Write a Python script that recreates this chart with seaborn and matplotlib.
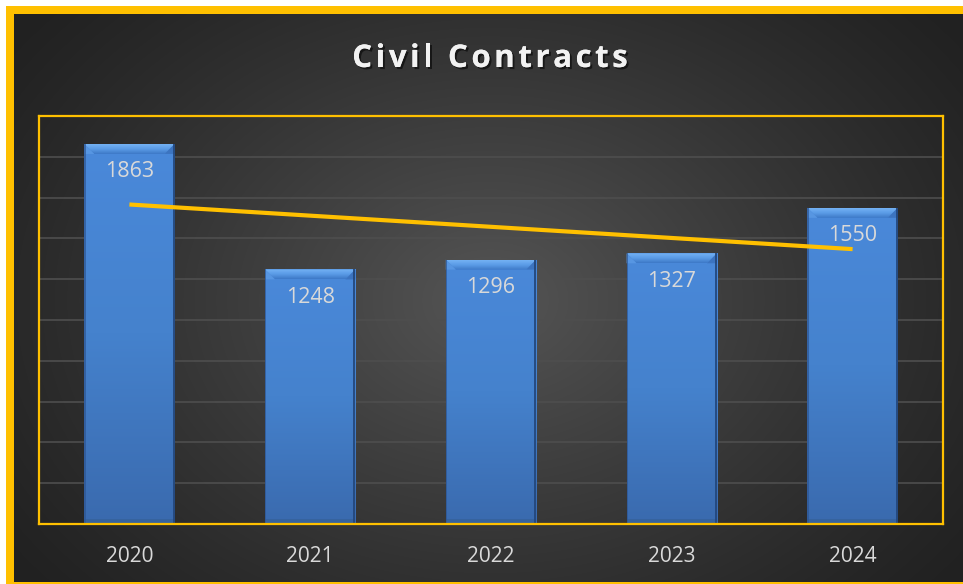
import numpy as np
import pandas as pd
import matplotlib
matplotlib.use("Agg")
import matplotlib.pyplot as plt
import seaborn as sns
from matplotlib.patches import Polygon, Rectangle
from matplotlib.colors import LinearSegmentedColormap
from matplotlib import patheffects as pe

# Contract counts per year
years = ["2020", "2021", "2022", "2023", "2024"]
contracts = [1863, 1248, 1296, 1327, 1550]
title = "Civil Contracts"

df = pd.DataFrame({"year": years, "contracts": contracts, "pos": np.arange(len(years))})

sns.set_theme(style="dark")
plt.rcParams["font.family"] = ["Open Sans", "DejaVu Sans"]

W, H, DPI = 963, 584, 100
fig = plt.figure(figsize=(W / DPI, H / DPI), dpi=DPI)
fig.patch.set_facecolor("white")

# --- backdrop: yellow frame with a dark radial gradient inside ---
bg_ax = fig.add_axes([0, 0, 1, 1], zorder=-10)
bg_ax.set_axis_off()
yy, xx = np.mgrid[0:H, 0:W]
r = np.sqrt(((xx - 490) / 600.0) ** 2 + ((yy - 300) / 450.0) ** 2)
t = np.clip(1 - r, 0, 1) ** 1.2
dark = 0x21 / 255 + (0x55 - 0x21) / 255 * t
img = np.ones((H, W, 3))
img[6:, 6:] = np.array([1.0, 0.753, 0.0])
for c in range(3):
    img[14:582, 14:, c] = dark[14:582, 14:]
bg_ax.imshow(img, extent=(0, W, H, 0), aspect="auto", interpolation="bilinear")
bg_ax.set_xlim(0, W)
bg_ax.set_ylim(H, 0)

# --- main plot area ---
left, right, top, bottom = 39, 943, 116, 524
ax = fig.add_axes([left / W, 1 - bottom / H, (right - left) / W, (bottom - top) / H])
ax.set_facecolor((0, 0, 0, 0))

sns.barplot(data=df, x="year", y="contracts", color="#4a86d4", width=0.5,
            saturation=1, ax=ax, zorder=3, edgecolor="none")
ax.set_ylim(0, 2000)
ax.set_xlim(-0.5, len(years) - 0.5)

ax.set_yticks(np.arange(0, 2001, 200))
ax.yaxis.grid(True, color="#4e4e4e", lw=1.2, zorder=0)
ax.xaxis.grid(False)
ax.tick_params(axis="y", left=False, labelleft=False)
ax.tick_params(axis="x", bottom=False, colors="#d9d9d9", labelsize=15, pad=10)
for s in ax.spines.values():
    s.set_visible(True)
    s.set_color("#ffc000")
    s.set_linewidth(1.6)
    s.set_zorder(6)

# pixel -> data size helper (figure layout is fixed)
inv = ax.transData.inverted()
def px(dx, dy):
    p0 = inv.transform((0, 0))
    p1 = inv.transform((dx, dy))
    return p1[0] - p0[0], p1[1] - p0[1]

bx, by = px(10, 10)
ex, _ = px(2, 0)
_, ly = px(0, 5)

grad = np.linspace(0, 1, 256).reshape(-1, 1)
body_cmap = LinearSegmentedColormap.from_list("body", ["#3a6aae", "#4582cd", "#4a89da"])
cap_cmap = LinearSegmentedColormap.from_list("cap", ["#3d78c6", "#5a9be6", "#74b2f4"])

# gradient body + bevelled cap for each bar
for patch in list(ax.patches):
    x0, y0 = patch.get_x(), patch.get_y()
    w, h = patch.get_width(), patch.get_height()
    x1, y1 = x0 + w, y0 + h
    im = ax.imshow(grad, cmap=body_cmap, extent=(x0, x1, y0, y1), origin="lower",
                   aspect="auto", zorder=3.5)
    im.set_clip_path(patch)
    cap = Polygon([(x0, y1), (x1, y1), (x1 - bx, y1 - by), (x0 + bx, y1 - by)],
                  closed=True, facecolor="none", edgecolor="none", zorder=4)
    ax.add_patch(cap)
    cim = ax.imshow(grad, cmap=cap_cmap, extent=(x0, x1, y1 - by, y1), origin="lower",
                    aspect="auto", zorder=4)
    cim.set_clip_path(cap)
    # corner facets
    ax.add_patch(Polygon([(x0, y1), (x0 + bx, y1 - by), (x0, y1 - by)],
                         closed=True, facecolor="#5796e2", edgecolor="none", zorder=4.1))
    ax.add_patch(Polygon([(x1, y1), (x1 - bx, y1 - by), (x1, y1 - by)],
                         closed=True, facecolor="#3c74c0", edgecolor="none", zorder=4.1))
    # dark side edges
    ax.add_patch(Rectangle((x0, y0), ex * 0.7, h, facecolor="#2d5592", edgecolor="none", zorder=4.2, alpha=0.7))
    ax.add_patch(Rectangle((x1 - ex, y0), ex, h, facecolor="#23477c", edgecolor="none", zorder=4.2, alpha=0.9))
    # bottom lip
    ax.add_patch(Rectangle((x0, y0), w, ly, facecolor="#36639e", edgecolor="none", zorder=4.1))
    patch.set_visible(False)

# value labels inside the top of each bar
_, lab_off = px(0, 28)
for i, v in enumerate(contracts):
    ax.text(i, v - lab_off, f"{v}", ha="center", va="center", color="#d9d9d9",
            fontsize=15.5, zorder=8)

# linear trend line
sns.regplot(data=df, x="pos", y="contracts", ax=ax, scatter=False, ci=None, truncate=True,
            line_kws=dict(color="#ffc000", lw=3, solid_capstyle="butt", zorder=7))
ax.set_xlabel("")
ax.set_ylabel("")
ax.set_xlim(-0.5, len(years) - 0.5)
ax.set_ylim(0, 2000)
ax.set_xticks(range(len(years)))
ax.set_xticklabels(years)

# letter-spaced title
renderer = fig.canvas.get_renderer()
tkw = dict(fontsize=22.5, fontweight="bold", color="#f2f2f2")
def adv(ch):
    a = fig.text(0, 0, "|" + ch + "|", **tkw)
    b = fig.text(0, 0, "||", **tkw)
    wa = a.get_window_extent(renderer).width
    wb = b.get_window_extent(renderer).width
    a.remove(); b.remove()
    return wa - wb
spacing = 3.5
advs = [adv(ch) for ch in title]
total = sum(advs) + spacing * (len(title) - 1)
xpos = 490 - total / 2
shadow = [pe.withSimplePatchShadow(offset=(1.5, -1.5), shadow_rgbFace="black", alpha=0.55), pe.Normal()]
for ch, a in zip(title, advs):
    if ch != " ":
        fig.text(xpos / W, 1 - 67 / H, ch, ha="left", va="baseline", path_effects=shadow, **tkw)
    xpos += a + spacing

fig.savefig("out.png", dpi=DPI, facecolor=fig.get_facecolor())
